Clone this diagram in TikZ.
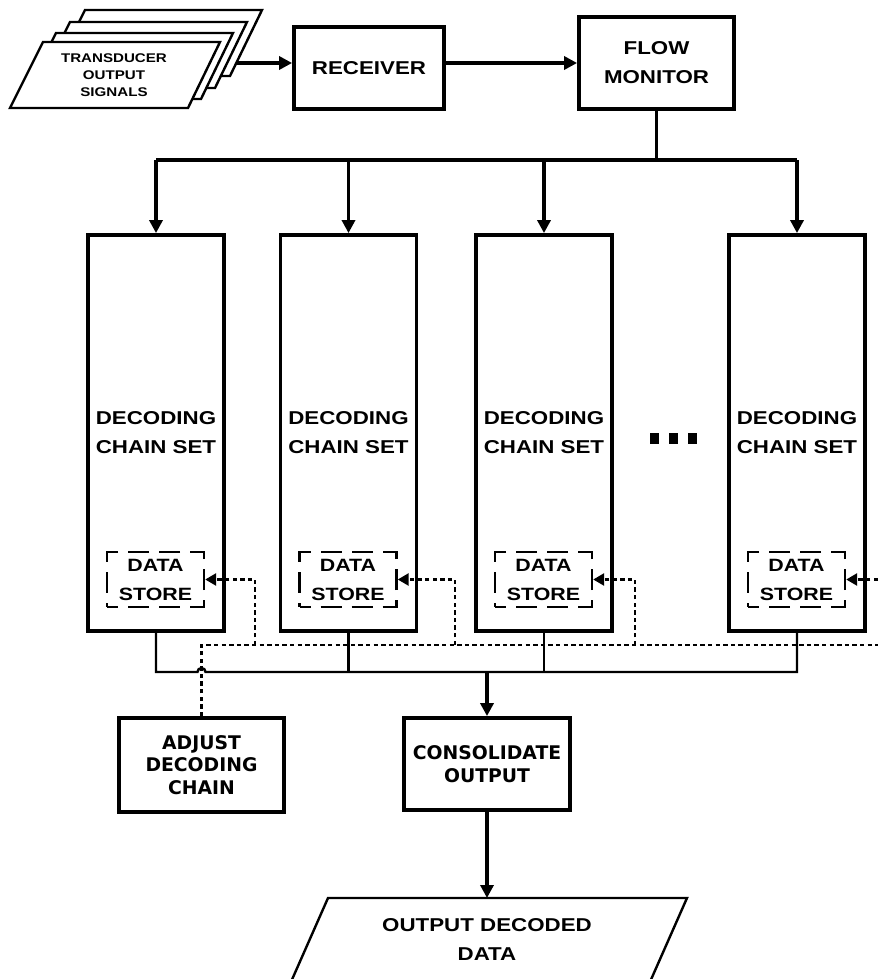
\documentclass[tikz,border=0pt]{standalone}
\usepackage{fontspec}
\usetikzlibrary{arrows.meta,calc}
\newfontfamily\lsb[FakeStretch=1.2]{Liberation Sans}
\newfontfamily\dvs{DejaVu Sans}
\begin{document}
\begin{tikzpicture}[x=0.5pt,y=-0.5pt,
  box/.style={draw,line width=1.9pt,fill=white,inner sep=0pt,align=center},
  mtext/.style={font=\lsb\bfseries\fontsize{9.3}{14.5}\selectfont,align=center},
  dtext/.style={font=\dvs\bfseries\fontsize{9.4}{11.4}\selectfont,align=center},
  decb/.style={box,mtext,minimum width=68pt,minimum height=198pt},
  dstore/.style={draw,line width=1.2pt,dash pattern=on 10.5pt off 5pt,dash phase=5pt,inner sep=0pt,
     minimum width=48.5pt,minimum height=27.5pt,align=center,
     font=\lsb\bfseries\fontsize{8.9}{14.5}\selectfont},
  conn/.style={line width=1.7pt},
  thinl/.style={line width=1.2pt},
  arr/.style={-{Triangle[length=6.5pt,width=6.5pt]}},
  dotl/.style={line width=1.3pt,dash pattern=on 2.2pt off 1.6pt},
  darr/.style={-{Triangle[length=5.5pt,width=6pt]}},
  layer/.style={draw,line width=1.2pt,fill=white},
  sq/.style={fill=black,inner sep=0pt,minimum width=4.5pt,minimum height=5.5pt}
]
\path[use as bounding box] (0,0) rectangle (878,979);
\clip (0,0) rectangle (878,979);

% transducer stack
\foreach \dx/\dy in {42/-32,27/-20,13/-9,0/0}{
  \draw[layer] ($(10,108)+(\dx,\dy)$) -- ($(188,108)+(\dx,\dy)$) -- ($(220,42)+(\dx,\dy)$) -- ($(43,42)+(\dx,\dy)$) -- cycle;
}
\node[font=\lsb\bfseries\fontsize{6.3}{8.5}\selectfont,align=center] (tr) at (114,75) {TRANSDUCER\\OUTPUT\\SIGNALS};

\node[box,mtext,minimum width=75pt,minimum height=41pt] (rec) at (369,68) {RECEIVER};
\node[box,mtext,minimum width=77.5pt,minimum height=46pt] (fm) at (656.5,63) {FLOW\\MONITOR};

\coordinate (tin) at (236,63);
\draw[conn,arr] (tin) -- (tin -| rec.west);
\draw[conn,arr] (rec.east |- fm.west) -- (fm.west);

% decoding chain sets
\node[decb] (d1) at (156,433) {DECODING\\CHAIN SET};
\node[decb] (d2) at (348.5,433) {DECODING\\CHAIN SET};
\node[decb] (d3) at (544,433) {DECODING\\CHAIN SET};
\node[decb] (d4) at (797,433) {DECODING\\CHAIN SET};

\node[dstore] (s1) at (155.5,579.5) {DATA\\STORE};
\node[dstore] (s2) at (348,579.5) {DATA\\STORE};
\node[dstore] (s3) at (543.5,579.5) {DATA\\STORE};
\node[dstore] (s4) at (796.5,579.5) {DATA\\STORE};

\node[sq] (e1) at (654.5,438.5) {};
\node[sq] (e2) at (673.5,438.5) {};
\node[sq] (e3) at (692.5,438.5) {};

% distribution bus
\coordinate (bus) at (656.5,160);
\draw[conn] (fm.south) -- (bus);
\draw[conn] (d1.north |- bus) -- (d4.north |- bus);
\foreach \i in {1,2,3,4}{
  \draw[conn,arr] (d\i.north |- bus) -- (d\i.north);
}

% lower boxes
\node[box,dtext,minimum width=82.5pt,minimum height=47pt] (adj) at (201.5,765) {ADJUST\\DECODING\\CHAIN};
\node[box,dtext,minimum width=83pt,minimum height=46pt] (cons) at (487,764) {CONSOLIDATE\\OUTPUT};

% dotted feedback
\coordinate (dright) at (878,645);
\coordinate (b1) at (255,645);
\coordinate (b2) at (455,645);
\coordinate (b3) at (635,645);
\coordinate (b4) at (878,579.5);
\draw[dotl] (adj.north) -- (adj.north |- dright) -- (dright);
\draw[dotl,darr] (b1) |- (s1.east);
\draw[dotl,darr] (b2) |- (s2.east);
\draw[dotl,darr] (b3) |- (s3.east);
\draw[dotl,darr] (b4) -- (s4.east);

% collecting bus
\coordinate (bot) at (487,672);
\coordinate (hopc) at (adj.north |- bot);
\draw[thinl] (d1.south) -- (d1.south |- bot) -- ($(hopc)+(-4,0)$) arc[start angle=180,end angle=0,radius=2pt] -- (d4.south |- bot) -- (d4.south);
\draw[thinl] (d2.south) -- (d2.south |- bot);
\draw[thinl] (d3.south) -- (d3.south |- bot);
\draw[conn,arr] (bot) -- (cons.north);

% output
\coordinate (otl) at (328,898);
\coordinate (otr) at (687,898);
\coordinate (obl) at (283,1000);
\coordinate (obr) at (642,1000);
\coordinate (otop) at (487,898);
\draw[line width=1.2pt] (obl) -- (otl) -- (otr) -- (obr);
\draw[conn,arr] (cons.south) -- (otop);
\node[mtext] (ot) at (487,939) {OUTPUT DECODED\\DATA};
\end{tikzpicture}
\end{document}
